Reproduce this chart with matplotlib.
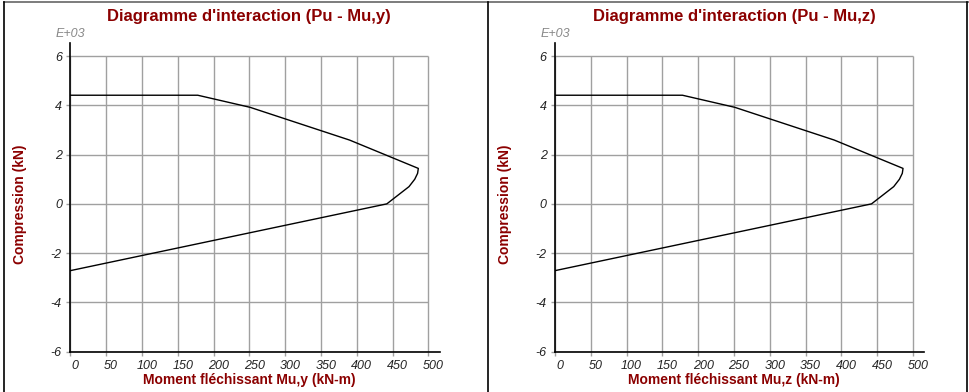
import numpy as np
import matplotlib.pyplot as plt
from matplotlib.lines import Line2D
import matplotlib.transforms as mtrans

plt.rcParams['font.family'] = ['Liberation Sans', 'DejaVu Sans']
plt.rcParams['axes.unicode_minus'] = False

# interaction curve (kN-m, kN) - same for both axes
mu = [0, 178, 251, 390, 486, 485, 481, 473, 442, 0]
pu = [4410, 4410, 3920, 2590, 1440, 1240, 1000, 700, 0, -2710]

titles = ["Diagramme d'interaction (Pu - Mu,y)", "Diagramme d'interaction (Pu - Mu,z)"]
xlabels = ["Moment fléchissant Mu,y (kN-m)", "Moment fléchissant Mu,z (kN-m)"]
ylabel = "Compression (kN)"
xticks = list(range(0, 501, 50))
yticks = [-6, -4, -2, 0, 2, 4, 6]

red = '#8b0000'
W, H = 970, 392

fig = plt.figure(figsize=(W / 100, H / 100), dpi=100)

# panel frames
fig.add_artist(Line2D([4 / W, 1], [1 - 2 / H, 1 - 2 / H], color='#666666', lw=1.2))
for xp in [4, 488, 967]:
    fig.add_artist(Line2D([xp / W, xp / W], [0, 1 - 2 / H], color='black', lw=1.2))

for k, left in enumerate([70.3, 555]):
    ax = fig.add_axes([left / W, 40.3 / H, 369.5 / W, 308.7 / H])
    ax.set_xlim(0, 516)
    ax.set_ylim(-6, 6.53)
    for s in ['top', 'right']:
        ax.spines[s].set_visible(False)
    ax.spines['left'].set_linewidth(1.2)
    ax.spines['bottom'].set_linewidth(1.2)

    # grid limited to the tick range
    ax.vlines(xticks, -6, 6, color='#a0a0a0', lw=1, zorder=1)
    ax.hlines(yticks, 0, 500, color='#a0a0a0', lw=1, zorder=1)

    ax.plot(mu, np.array(pu) / 1000.0, color='black', lw=1, zorder=3)

    ax.set_xticks(xticks)
    ax.set_yticks(yticks)
    ax.tick_params(length=3, width=1, color='#a0a0a0', labelsize=9, labelcolor='#222222', pad=3)
    for lab in ax.get_xticklabels() + ax.get_yticklabels():
        lab.set_fontstyle('italic')
    off = mtrans.ScaledTranslation(5 / 100, 0, fig.dpi_scale_trans)
    for lab in ax.get_xticklabels():
        lab.set_transform(lab.get_transform() + off)

    ax.text(0, 1, 'E+03', transform=ax.transAxes + mtrans.ScaledTranslation(0, 3 / 100, fig.dpi_scale_trans),
            ha='center', va='bottom', fontsize=9, style='italic', color='#888888')

    tr = mtrans.blended_transform_factory(ax.transData, fig.transFigure)
    ax.text(250, 1 - 16 / H, titles[k], transform=tr, ha='center', va='center',
            fontsize=12, fontweight='bold', color=red)
    ax.text(250, 1 - 380 / H, xlabels[k], transform=tr, ha='center', va='center',
            fontsize=10, fontweight='bold', color=red)
    tr2 = mtrans.blended_transform_factory(fig.transFigure, ax.transData)
    ax.text((left - 50) / W, 0, ylabel, transform=tr2, ha='center', va='center',
            rotation=90, fontsize=10, fontweight='bold', color=red)

fig.savefig('out.png', dpi=100)
